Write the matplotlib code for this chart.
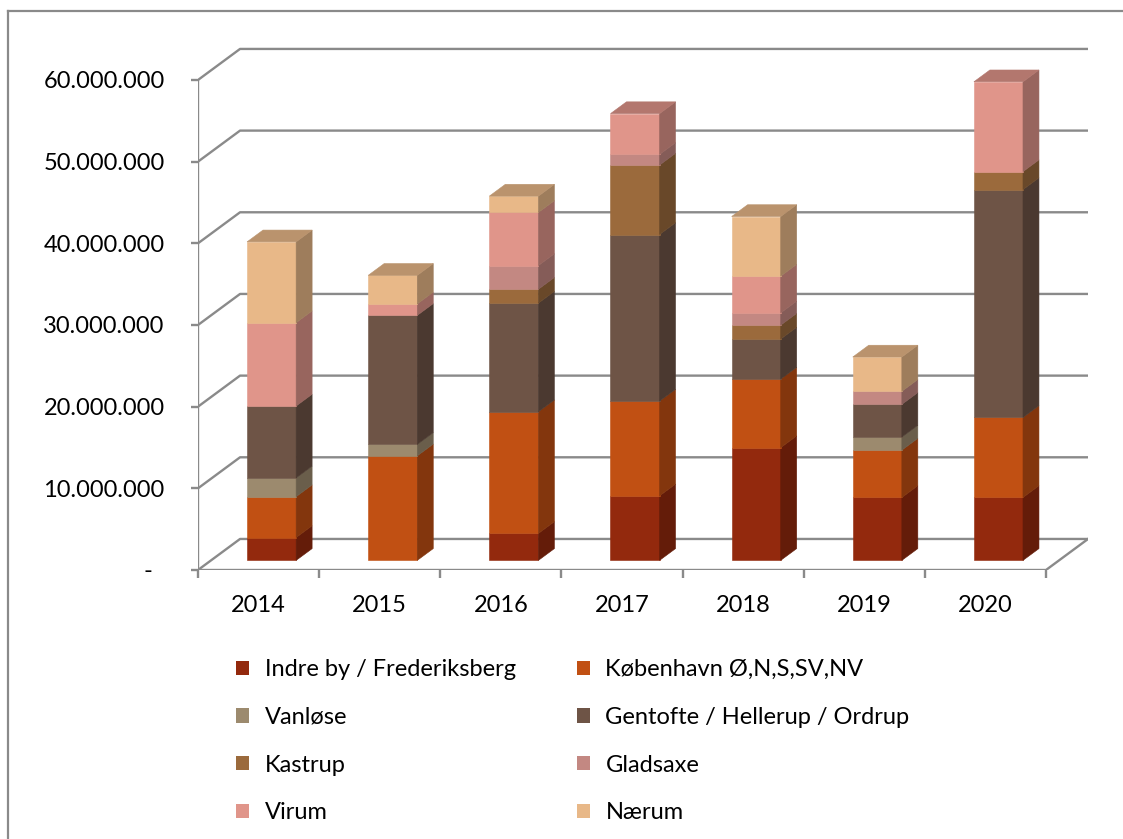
import matplotlib.pyplot as plt
import numpy as np
from matplotlib.patches import Polygon, Patch
from matplotlib.lines import Line2D
from matplotlib.colors import to_rgb

plt.rcParams['font.family'] = ['Lato', 'DejaVu Sans']

years = ['2014', '2015', '2016', '2017', '2018', '2019', '2020']
areas = ['Indre by / Frederiksberg', 'København Ø,N,S,SV,NV', 'Vanløse',
         'Gentofte / Hellerup / Ordrup', 'Kastrup', 'Gladsaxe', 'Virum', 'Nærum']
colors = ['#93290d', '#c15013', '#9c8a6e', '#6e5446', '#9b6a3c', '#c38882', '#e0958a', '#e8b888']

# amounts in million kr per year
indre_by = [2.8, 0.0, 3.3, 7.9, 13.8, 7.7, 7.7]
koebenhavn = [5.0, 12.8, 14.9, 11.6, 8.4, 5.8, 9.8]
vanloese = [2.3, 1.4, 0.0, 0.0, 0.0, 1.6, 0.0]
gentofte = [8.8, 15.8, 13.3, 20.4, 4.9, 4.0, 27.9]
kastrup = [0.0, 0.0, 1.7, 8.5, 1.7, 0.0, 2.2]
gladsaxe = [0.0, 0.0, 2.9, 1.3, 1.5, 1.6, 0.0]
virum = [10.2, 1.4, 6.5, 5.0, 4.5, 0.0, 11.0]
naerum = [9.9, 3.5, 2.0, 0.0, 7.3, 4.2, 0.0]

yticks = [0, 10e6, 20e6, 30e6, 40e6, 50e6, 60e6]

series = [indre_by, koebenhavn, vanloese, gentofte, kastrup, gladsaxe, virum, naerum]
data = np.array(series) * 1e6

grey = '#8a8a8a'
lw = 1.7
fs = 17

# oblique "3d" geometry: full floor depth and the slice a bar occupies
depth_dx, depth_dy = 0.347, 3.8e6
f0, f1 = 0.31, 0.69
bar_w = 0.405


def shade(c, k):
    return tuple(np.clip(np.array(to_rgb(c)) * k, 0, 1))


fig = plt.figure(figsize=(11.23, 8.39), dpi=100)
ax = fig.add_axes([198 / 1123, 1 - 570 / 839, 890.4 / 1123, 522.7 / 839])
n = len(years)
ax.set_xlim(0, n + 0.35)
ax.set_ylim(0, 64e6)
for s in ax.spines.values():
    s.set_visible(False)

# walls and floor
ax.plot([0, 0], [0, yticks[-1]], color=grey, lw=lw, zorder=1, solid_capstyle='butt')
for v in yticks:
    ax.plot([0, depth_dx, n + depth_dx], [v, v + depth_dy, v + depth_dy],
            color=grey, lw=lw, zorder=1)
ax.plot([0, n, n + depth_dx], [0, 0, depth_dy], color=grey, lw=lw, zorder=1)

# stacked columns
for i in range(n):
    x0 = i + 0.5 - bar_w / 2 + f0 * depth_dx
    x1 = x0 + bar_w
    bdx = (f1 - f0) * depth_dx
    bdy = (f1 - f0) * depth_dy
    bottom = f0 * depth_dy
    for k in range(len(series)):
        h = data[k, i]
        if h <= 0:
            continue
        top = bottom + h
        c = colors[k]
        ax.bar(x0, h, bottom=bottom, width=bar_w, align='edge', color=c,
               edgecolor=c, linewidth=0.4, zorder=3)
        side = Polygon([(x1, bottom), (x1 + bdx, bottom + bdy), (x1 + bdx, top + bdy), (x1, top)],
                       closed=True, facecolor=shade(c, 0.68), edgecolor=shade(c, 0.68),
                       linewidth=0.4, zorder=3)
        ax.add_patch(side)
        bottom = top
    last = [k for k in range(len(series)) if data[k, i] > 0][-1]
    tc = shade(colors[last], 0.8)
    lid = Polygon([(x0, bottom), (x0 + bdx, bottom + bdy), (x1 + bdx, bottom + bdy), (x1, bottom)],
                  closed=True, facecolor=tc, edgecolor=tc, linewidth=0.4, zorder=3)
    ax.add_patch(lid)


def money(v):
    if v == 0:
        return '-  '
    return f'{int(v):,}'.replace(',', '.')


ax.set_yticks(yticks)
ax.set_yticklabels([money(v) for v in yticks])
ax.tick_params(axis='y', length=5, width=lw, color=grey, pad=19, labelsize=fs)
ax.set_xticks(np.arange(n + 1))
ax.set_xticklabels([])
ax.set_xticks(np.arange(n) + 0.5, minor=True)
ax.set_xticklabels(years, minor=True)
ax.tick_params(axis='x', which='major', length=6, width=lw, color=grey, direction='out')
ax.tick_params(axis='x', which='minor', length=0, pad=18, labelsize=fs)

handles = [Patch(facecolor=c, edgecolor='none') for c in colors]
order = list(range(0, 8, 2)) + list(range(1, 8, 2))
fig.legend([handles[j] for j in order], [areas[j] for j in order], ncol=2,
           loc='upper left', bbox_to_anchor=(215 / 1123, 1 - 638 / 839),
           frameon=False, fontsize=fs, handlelength=0.55, handleheight=0.55,
           handletextpad=0.65, labelspacing=1.13, columnspacing=2.6)

# chart area frame
fig.add_artist(Line2D([8 / 1123, 8 / 1123], [0, 1 - 11 / 839], color=grey, lw=1.6))
fig.add_artist(Line2D([8 / 1123, 1], [1 - 11 / 839, 1 - 11 / 839], color=grey, lw=1.6))

fig.savefig('out.png', dpi=100)
